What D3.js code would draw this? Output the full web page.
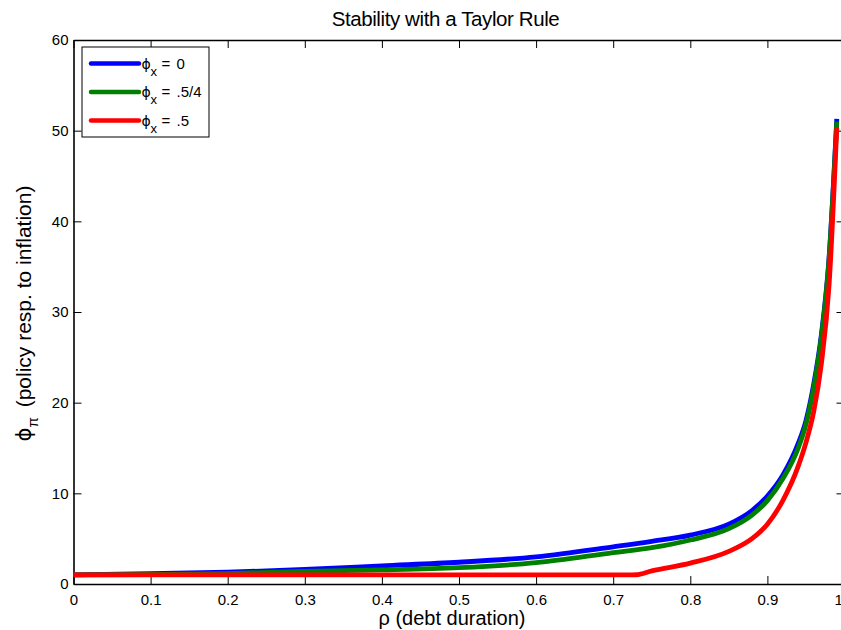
<!DOCTYPE html>
<html>
<head>
<meta charset="utf-8">
<script src="https://cdn.jsdelivr.net/npm/d3@7"></script>
<style>
  html, body { margin: 0; padding: 0; background: #fff; }
  svg { display: block; font-family: "Liberation Sans", Arial, sans-serif; }
</style>
</head>
<body>
<div id="chart"></div>
<script>
// ---- data ----
const rhoBlue  = [0, 0.1, 0.2, 0.3, 0.4, 0.5, 0.6, 0.7, 0.75, 0.8, 0.85, 0.88, 0.9, 0.92, 0.94, 0.95, 0.96, 0.97, 0.98, 0.99];
const phiBlue  = [1.0, 1.15, 1.3, 1.6, 2.0, 2.4, 3.0, 4.1, 4.7, 5.4, 6.6, 8.1, 9.7, 12.0, 15.5, 18.0, 22.0, 27.5, 36.0, 51.3];
const rhoGreen = [0, 0.1, 0.2, 0.3, 0.4, 0.5, 0.6, 0.7, 0.75, 0.8, 0.85, 0.88, 0.9, 0.92, 0.94, 0.95, 0.96, 0.97, 0.98, 0.99];
const phiGreen = [1.0, 1.05, 1.15, 1.4, 1.55, 1.8, 2.35, 3.45, 4.0, 4.85, 6.1, 7.6, 9.2, 11.6, 15.0, 17.6, 21.6, 27.2, 35.8, 51.0];
const rhoRed   = [0, 0.1, 0.2, 0.3, 0.4, 0.5, 0.6, 0.7, 0.72, 0.73, 0.75, 0.8, 0.85, 0.88, 0.9, 0.92, 0.94, 0.95, 0.96, 0.97, 0.98, 0.99];
const phiRed   = [1.0, 1.0, 1.0, 1.0, 1.0, 1.0, 1.0, 1.0, 1.0, 1.02, 1.45, 2.3, 3.6, 5.0, 6.6, 9.2, 13.0, 15.6, 19.0, 24.3, 33.0, 50.3];

const seriesNames  = ["0", ".5/4", ".5"];
const seriesColors = ["#0000ff", "#008000", "#ff0000"];
const xTicks = [0, 0.1, 0.2, 0.3, 0.4, 0.5, 0.6, 0.7, 0.8, 0.9, 1];
const yTicks = [0, 10, 20, 30, 40, 50, 60];

const series = [
  { name: seriesNames[0], color: seriesColors[0], values: rhoBlue.map((r, i) => [r, phiBlue[i]]) },
  { name: seriesNames[1], color: seriesColors[1], values: rhoGreen.map((r, i) => [r, phiGreen[i]]) },
  { name: seriesNames[2], color: seriesColors[2], values: rhoRed.map((r, i) => [r, phiRed[i]]) }
];

// ---- layout ----
const W = 841, H = 630;
const mLeft = 73.5, mRight = 844.5, mTop = 40, mBottom = 584;
const FONT = "'Liberation Sans', Arial, sans-serif";
const PHI = "\u03D5";

const svg = d3.select("#chart").append("svg").attr("width", W).attr("height", H);

const x = d3.scaleLinear().domain([0, 1]).range([mLeft, mRight]);
const y = d3.scaleLinear().domain([0, 60]).range([mBottom, mTop]);

// axes (MATLAB style: inward ticks on all sides, box)
const fmtX = d => d === 0 ? "0" : d3.format(".1f")(d);
const gB = svg.append("g").attr("transform", `translate(0,${mBottom})`)
  .call(d3.axisBottom(x).tickValues(xTicks).tickSizeInner(-8).tickSizeOuter(0).tickPadding(10).tickFormat(fmtX));
const gT = svg.append("g").attr("transform", `translate(0,${mTop})`)
  .call(d3.axisTop(x).tickValues(xTicks).tickSizeInner(-8).tickSizeOuter(0).tickFormat(""));
const gL = svg.append("g").attr("transform", `translate(${mLeft},0)`)
  .call(d3.axisLeft(y).tickValues(yTicks).tickSizeInner(-8).tickSizeOuter(0).tickPadding(5).tickFormat(d3.format("d")));
const gR = svg.append("g").attr("transform", `translate(${mRight},0)`)
  .call(d3.axisRight(y).tickValues(yTicks).tickSizeInner(-8).tickSizeOuter(0).tickFormat(""));

[gB, gT, gL, gR].forEach(g => {
  g.select(".domain").attr("stroke", "#000").attr("stroke-width", 1.6);
  g.selectAll(".tick line").attr("stroke", "#000").attr("stroke-width", 1);
  g.selectAll(".tick text").attr("fill", "#000").style("font-size", "15px").style("font-family", FONT);
});

// lines
const line = d3.line().curve(d3.curveMonotoneX).x(d => x(d[0])).y(d => y(d[1]));
svg.append("g").selectAll("path").data(series).join("path")
  .attr("d", d => line(d.values))
  .attr("fill", "none")
  .attr("stroke", d => d.color)
  .attr("stroke-width", 4.8)
  .attr("stroke-linejoin", "round");

// title
svg.append("text").attr("x", 445.5).attr("y", 26)
  .attr("text-anchor", "middle").style("font-size", "20.5px").style("letter-spacing", "-0.4px")
  .attr("fill", "#000").text("Stability with a Taylor Rule");

// x label
svg.append("text").attr("x", 452).attr("y", 625)
  .attr("text-anchor", "middle").style("font-size", "20px").attr("fill", "#000")
  .text("ρ (debt duration)");

// y label
const yl = svg.append("text")
  .attr("transform", `translate(31,313.5) rotate(-90)`)
  .attr("text-anchor", "middle").style("font-size", "21px").attr("fill", "#000");
yl.append("tspan").style("font-family", "'DejaVu Sans', sans-serif").text(PHI);
yl.append("tspan").attr("dy", 7).style("font-size", "15px").text("π");
yl.append("tspan").attr("dy", -7).attr("dx", 4).text(" (policy resp. to inflation)");

// legend
const lg = svg.append("g");
lg.append("rect").attr("x", 82).attr("y", 47).attr("width", 127).attr("height", 90)
  .attr("fill", "#fff").attr("stroke", "#000").attr("stroke-width", 1);
const rowY = [63.5, 92, 120.5];
series.forEach((s, i) => {
  lg.append("line").attr("x1", 91).attr("x2", 139).attr("y1", rowY[i]).attr("y2", rowY[i])
    .attr("stroke", s.color).attr("stroke-width", 4.5).attr("stroke-linecap", "round");
  const g = lg.append("g").style("font-size", "15px").attr("fill", "#000");
  g.append("text").attr("x", 141.5).attr("y", rowY[i] + 5).style("font-family", "'DejaVu Sans', sans-serif")
    .style("font-size", "14px").text(PHI);
  g.append("text").attr("x", 150.5).attr("y", rowY[i] + 12).style("font-size", "13px").text("x");
  g.append("text").attr("x", 161.5).attr("y", rowY[i] + 5).text("=");
  g.append("text").attr("x", 176.5).attr("y", rowY[i] + 5).text(s.name);
});
</script>
</body>
</html>
